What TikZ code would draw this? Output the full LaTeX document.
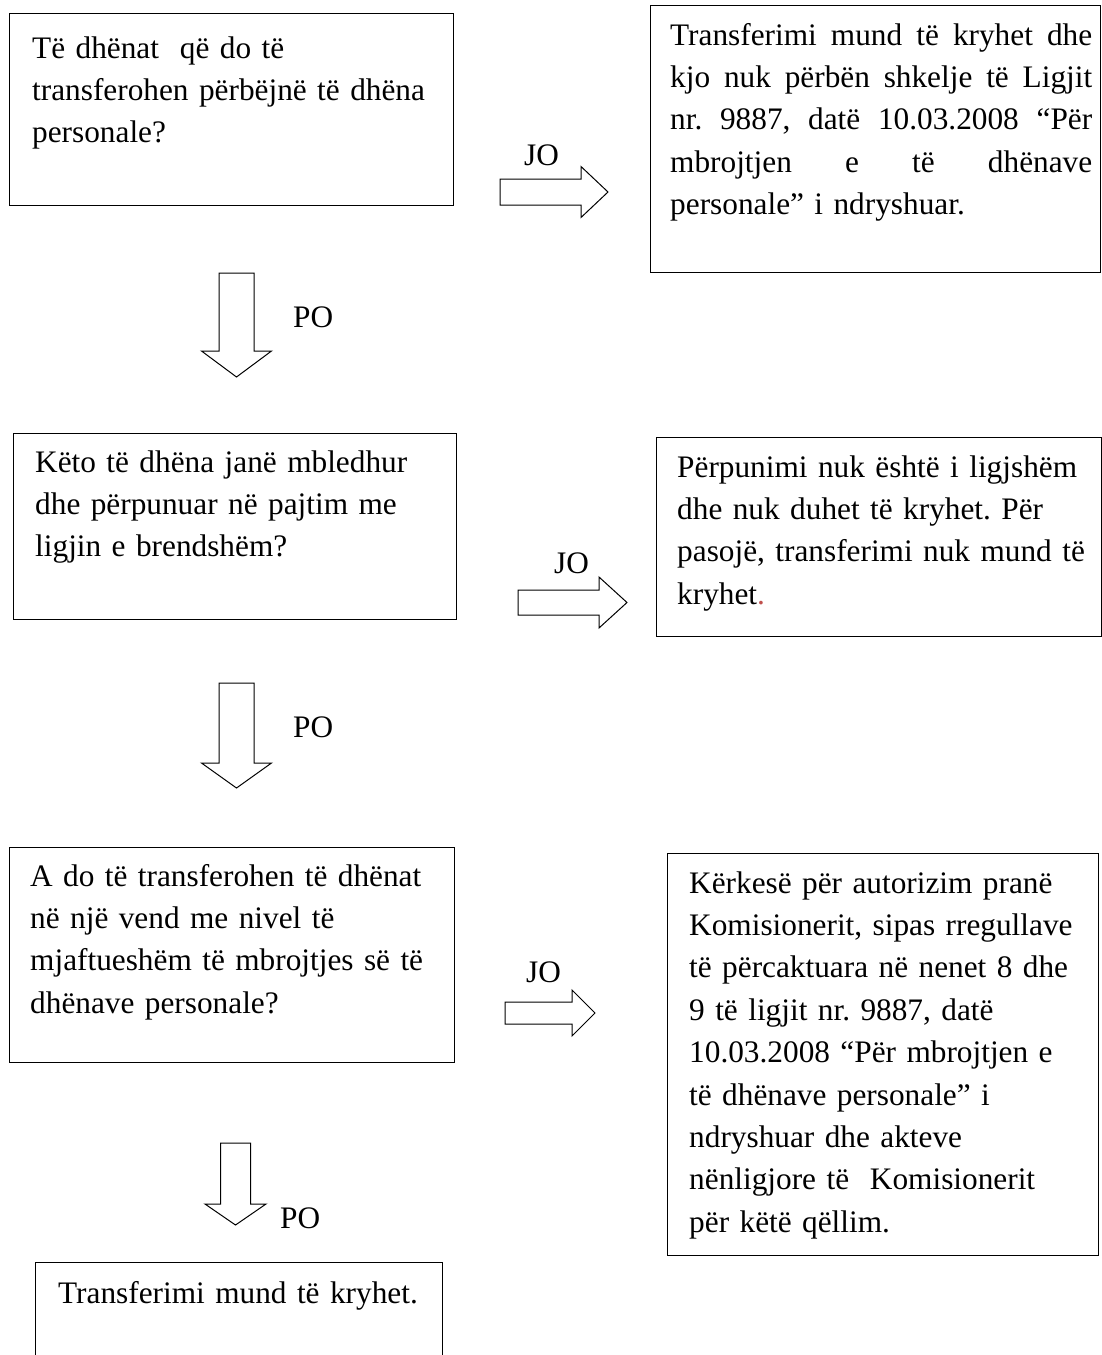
\documentclass[tikz,border=0pt]{standalone}
\usepackage{fontspec}
\setmainfont{Liberation Serif}
\definecolor{dotred}{RGB}{192,80,77}
\frenchspacing

\begin{document}
\begin{tikzpicture}[
    x=1pt, y=-1pt,
    every node/.style={font=\fontsize{31.3}{42.4}\selectfont, inner sep=0pt},
    box/.style={draw, line width=1.2pt, anchor=north west},
    txt/.style={anchor=base west, text width=440pt, align=left},
    lbl/.style={anchor=base west},
    blockarrow/.style={draw, line width=1pt, line join=miter}
  ]
  \clip (0,0) rectangle (1102,1355);

  % question boxes on the left, answers on the right
  \node[box, minimum width=444pt, minimum height=192pt] (q1) at (9,13) {};
  \node[box, minimum width=450pt, minimum height=267pt] (a1) at (650,5) {};
  \node[box, minimum width=443pt, minimum height=186pt] (q2) at (13,433) {};
  \node[box, minimum width=445pt, minimum height=199pt] (a2) at (656,437) {};
  \node[box, minimum width=445pt, minimum height=215pt] (q3) at (9,847) {};
  \node[box, minimum width=431pt, minimum height=402pt] (a3) at (667,853) {};
  \node[box, minimum width=407pt, minimum height=120pt] (q4) at (35,1262) {};

  \node[txt] (q1t) at (32,58) {Të dhënat\ \ që do të\\transferohen përbëjnë të dhëna\\personale?};
  \node[txt, text width=422pt] (a1t) at (670,45) {\makebox[422pt][s]{Transferimi\hfill mund\hfill të\hfill kryhet\hfill dhe}\\
    \makebox[422pt][s]{kjo\hfill nuk\hfill përbën\hfill shkelje\hfill të\hfill Ligjit}\\
    \makebox[422pt][s]{nr.\hfill 9887,\hfill datë\hfill 10.03.2008\hfill “Për}\\
    \makebox[422pt][s]{mbrojtjen\hfill e\hfill të\hfill dhënave}\\
    personale” i ndryshuar.};
  \node[txt] (q2t) at (35,472) {Këto të dhëna janë mbledhur\\dhe përpunuar në pajtim me\\ligjin e brendshëm?};
  \node[txt] (a2t) at (677,477) {Përpunimi nuk është i ligjshëm\\dhe nuk duhet të kryhet. Për\\pasojë, transferimi nuk mund të\\kryhet\textcolor{dotred}{.}};
  \node[txt] (q3t) at (30,886) {A do të transferohen të dhënat\\në një vend me nivel të\\mjaftueshëm të mbrojtjes së të\\dhënave personale?};
  \node[txt] (a3t) at (689,893) {Kërkesë për autorizim pranë\\Komisionerit, sipas rregullave\\të përcaktuara në nenet 8 dhe\\9 të ligjit nr. 9887, datë\\10.03.2008 “Për mbrojtjen e\\të dhënave personale” i\\ndryshuar dhe akteve\\nënligjore të\ \ Komisionerit\\për këtë qëllim.};
  \node[txt] (q4t) at (58,1303) {Transferimi mund të kryhet.};

  % JO / PO labels
  \node[lbl] (jo1) at (524,165) {JO};
  \node[lbl] (jo2) at (554,573) {JO};
  \node[lbl] (jo3) at (526,982) {JO};
  \node[lbl] (po1) at (293,327) {PO};
  \node[lbl] (po2) at (293,737) {PO};
  \node[lbl] (po3) at (280,1228) {PO};

  % Draw the hollow arrows from their tails
  \coordinate (jo1a) at (500,192);
  \coordinate (jo2a) at (518,602.5);
  \coordinate (jo3a) at (505,1013);
  \coordinate (po1a) at (236.5,273);
  \coordinate (po2a) at (236.5,683);
  \coordinate (po3a) at (235.5,1143);
  \draw[blockarrow] (jo1a) ++(0,-13) -- ++(81,0) -- ++(0,-12.5) -- ++(27,25.5) -- ++(-27,25.5) -- ++(0,-12.5) -- ++(-81,0) -- cycle;
  \draw[blockarrow] (jo2a) ++(0,-12.5) -- ++(81,0) -- ++(0,-13) -- ++(28,25.5) -- ++(-28,25.5) -- ++(0,-13) -- ++(-81,0) -- cycle;
  \draw[blockarrow] (jo3a) ++(0,-11) -- ++(67,0) -- ++(0,-12) -- ++(23,23) -- ++(-23,23) -- ++(0,-12) -- ++(-67,0) -- cycle;
  \draw[blockarrow] (po1a) ++(-17.5,0) -- ++(0,78) -- ++(-17.5,0) -- ++(35,26) -- ++(35,-26) -- ++(-17.5,0) -- ++(0,-78) -- cycle;
  \draw[blockarrow] (po2a) ++(-17.5,0) -- ++(0,80) -- ++(-17.5,0) -- ++(35,25) -- ++(35,-25) -- ++(-17.5,0) -- ++(0,-80) -- cycle;
  \draw[blockarrow] (po3a) ++(-15,0) -- ++(0,61) -- ++(-15.5,0) -- ++(30.5,21) -- ++(30.5,-21) -- ++(-15.5,0) -- ++(0,-61) -- cycle;
\end{tikzpicture}
\end{document}
